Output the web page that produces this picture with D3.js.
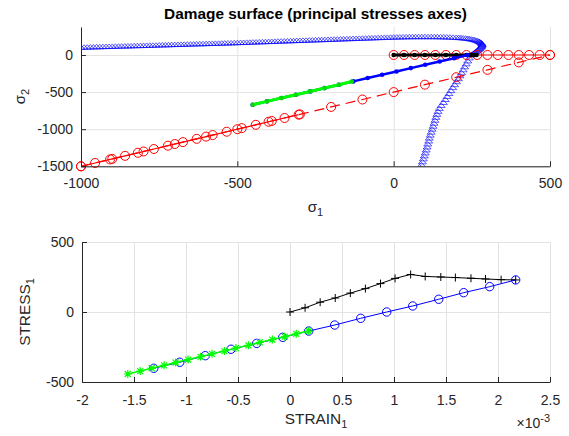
<!DOCTYPE html>
<html>
<head>
<meta charset="utf-8">
<script src="https://cdn.jsdelivr.net/npm/d3@7"></script>
<style>
    body { margin: 0; background: #fff; }
    text { font-family: "Liberation Sans", Arial, sans-serif; fill: #262626; }
    .axis path, .axis line { stroke: #262626; }
    .axis text { font-size: 14px; fill: #262626; }
    .grid line { stroke: #e3e3e3; }
    .grid path { display: none; }
</style>
</head>
<body>
<div id="vis"></div>
<script>
// ---- top plot data (principal stresses) ----
// damage surface envelope (upper branch, loop, lower branch)
var envSig1 = [-1000, -990, -980, -970, -960, -950, -940, -930, -920, -910, -900, -890, -880, -870, -860, -850,
    -840, -830, -820, -810, -800, -790, -780, -770, -760, -750, -740, -730, -720, -710, -700, -690, -680, -670,
    -660, -650, -640, -630, -620, -610, -600, -590, -580, -570, -560, -550, -540, -530, -520, -510, -500, -490,
    -480, -470, -460, -450, -440, -430, -420, -410, -400, -390, -380, -370, -360, -350, -340, -330, -320, -310,
    -300, -290, -280, -270, -260, -250, -240, -230, -220, -210, -200, -190, -180, -170, -160, -150, -140, -130,
    -120, -110, -100, -90, -80, -70, -60, -50, -40, -30, -20, -10, 0, 10, 20, 30, 40, 50, 60, 70, 80, 90, 100,
    110, 120, 130, 140, 150, 160, 170, 180, 190, 200,
    208, 215, 222, 230, 237, 243, 249, 255, 260, 265, 269, 273, 276, 279, 281, 282, 283, 283, 282, 281, 279,
    277, 275, 272, 269, 266, 263, 260, 257, 254, 250, 247,
    242, 237, 232, 227, 222, 217, 212, 207, 201, 195, 189, 183, 177, 171, 165, 159, 152, 146, 142, 138,
    135, 132, 129, 126, 123, 120, 117, 114, 112, 109, 107, 104, 101, 98, 95, 92, 89, 86];
var envSig2 = [103, 104, 105, 107, 108, 109, 110, 112, 113, 114, 115, 117, 118, 119, 120, 121, 122, 124, 125,
    126, 127, 129, 130, 131, 132, 134, 135, 136, 137, 139, 140, 141, 142, 144, 145, 146, 147, 149, 150, 151,
    152, 154, 155, 156, 157, 159, 160, 161, 162, 164, 165, 167, 168, 170, 171, 173, 174, 176, 177, 179, 180,
    182, 183, 185, 186, 188, 189, 191, 192, 194, 195, 197, 198, 200, 201, 203, 204, 206, 207, 209, 210, 212,
    213, 215, 216, 218, 219, 221, 222, 224, 225, 227, 228, 230, 231, 233, 234, 236, 237, 239, 240, 241, 242,
    243, 244, 245, 245, 246, 246, 246, 246, 246, 246, 246, 245, 244, 243, 242, 240, 238, 236,
    234, 232, 229, 226, 222, 218, 213, 208, 202, 196, 189, 182, 175, 167, 159, 151, 143, 135, 125, 115, 105,
    95, 85, 75, 65, 55, 45, 35, 26, 17, 8, 0,
    -40, -80, -120, -160, -200, -240, -280, -320, -360, -400, -440, -480, -520, -560, -600, -640, -680, -720,
    -760, -800, -840, -880, -920, -960, -1000, -1040, -1080, -1120, -1160, -1200, -1240, -1280, -1320, -1360,
    -1400, -1440, -1480, -1520];

// red dashed path with circles
var redDashS1 = [-1000, -900, -800, -700, -600, -500, -400, -300, -200, -100, 0, 100, 200, 300, 400, 500];
var redDashS2 = [-1500, -1400, -1300, -1200, -1100, -1000, -900, -800, -700, -600, -500, -400, -300, -200, -100, 0];
// red solid path with circles
var redSolidS1 = [-1000, -955, -907, -859, -818, -767, -722, -674, -630, -579, -534, -486, -441, -390, -349, -304];
var redSolidS2 = [-1500, -1455, -1407, -1359, -1318, -1267, -1222, -1174, -1130, -1079, -1034, -986, -941, -890, -849, -804];
// red circles on sigma2 = 0
var redAxisS1 = [0, 33, 67, 100, 133, 167, 200, 233, 267, 300, 333, 367, 400, 433, 467, 500];
var redAxisS2 = [0, 0, 0, 0, 0, 0, 0, 0, 0, 0, 0, 0, 0, 0, 0, 0];
// black path
var blackS1 = [0, 33, 67, 100, 133, 167, 200, 233, 242, 250, 258, 265];
var blackS2 = [0, 0, 0, 0, 0, 0, 0, 0, 0, 0, 0, 0];
// blue path
var blueS1 = [-451, -405, -359, -313, -267, -221, -175, -129, -83, -37, 9, 55, 101, 147, 193, 237];
var blueS2 = [-670, -625, -580, -536, -491, -446, -401, -356, -311, -267, -222, -177, -132, -88, -43, 0];
// green path
var greenS1 = [-451, -405, -359, -313, -267, -221, -175, -134];
var greenS2 = [-670, -625, -580, -536, -491, -446, -401, -358];

var topXTicks = [-1000, -500, 0, 500];
var topYTicks = [-1500, -1000, -500, 0];

// ---- bottom plot data (strain x 1e-3, stress) ----
var kStrain = [0, 0.145, 0.29, 0.435, 0.58, 0.725, 0.87, 1.01, 1.16, 1.30, 1.45, 1.59, 1.74, 1.88, 2.03, 2.17];
var kStress = [0, 30, 70, 100, 135, 167, 203, 240, 268, 254, 250, 246, 241, 236, 231, 229];
var bStrain = [-1.31, -1.06, -0.815, -0.567, -0.32, -0.07, 0.18, 0.43, 0.68, 0.93, 1.18, 1.43, 1.67, 1.92, 2.17];
var bStress = [-402, -359, -312, -266, -224, -181, -136, -93, -45, 0, 43, 91, 138, 181, 229];
var gStrain = [-1.56, -1.44, -1.33, -1.21, -1.10, -0.98, -0.86, -0.75, -0.63, -0.52, -0.40, -0.29, -0.17, -0.05, 0.06, 0.18];
var gStress = [-443, -422, -402, -381, -361, -340, -320, -299, -279, -258, -238, -217, -197, -176, -156, -136];

var botXTicks = [-2, -1.5, -1, -0.5, 0, 0.5, 1, 1.5, 2, 2.5];
var botYTicks = [-500, 0, 500];

var zip = function(a, b) {
    return a.map(function(v, i) { return [v, b[i]]; });
};

var width = 569,
    height = 436;

var svg = d3.select('#vis').append('svg')
    .attr('width', width)
    .attr('height', height);

// plain numbers, hyphen minus like MATLAB
var fmt = function(d) { return String(d); };

// ================= top axes =================
var boxTop = { left: 81, right: 550, top: 27, bottom: 166.3 };

var x1 = d3.scaleLinear().domain([-1000, 500]).range([boxTop.left, boxTop.right]);
var y1 = d3.scaleLinear().domain([-1500, 377]).range([boxTop.bottom, boxTop.top]);

svg.append('defs').append('clipPath').attr('id', 'clipTop')
    .append('rect')
    .attr('x', boxTop.left).attr('y', boxTop.top)
    .attr('width', boxTop.right - boxTop.left).attr('height', boxTop.bottom - boxTop.top);

// grid
svg.append('g').attr('class', 'grid')
    .attr('transform', 'translate(0,' + boxTop.bottom + ')')
    .call(d3.axisBottom(x1).tickValues(topXTicks).tickSize(-(boxTop.bottom - boxTop.top)).tickFormat(''));
svg.append('g').attr('class', 'grid')
    .attr('transform', 'translate(' + boxTop.left + ',0)')
    .call(d3.axisLeft(y1).tickValues(topYTicks).tickSize(-(boxTop.right - boxTop.left)).tickFormat(''));

// envelope markers (small flat triangles), clipped to the axes
svg.append('g').attr('clip-path', 'url(#clipTop)')
    .selectAll('.env').data(zip(envSig1, envSig2))
    .enter().append('path')
    .attr('class', 'env')
    .attr('d', 'M-4,2L0,-2.5L4,2Z')
    .attr('transform', function(d) { return 'translate(' + x1(d[0]) + ',' + y1(d[1]) + ')'; })
    .attr('fill', 'none')
    .attr('stroke', '#0000ff')
    .attr('stroke-width', 0.7)
    .attr('opacity', 0.9);

var gTop = svg.append('g');

var lineTop = d3.line()
    .x(function(d) { return x1(d[0]); })
    .y(function(d) { return y1(d[1]); });

var drawCircles = function(g, pts, xs, ys, r, color, sw) {
    g.append('g').selectAll('circle').data(pts)
        .enter().append('circle')
        .attr('cx', function(d) { return xs(d[0]); })
        .attr('cy', function(d) { return ys(d[1]); })
        .attr('r', r)
        .attr('fill', 'none')
        .attr('stroke', color)
        .attr('stroke-width', sw);
};
var drawDots = function(g, pts, xs, ys, r, color) {
    g.append('g').selectAll('circle').data(pts)
        .enter().append('circle')
        .attr('cx', function(d) { return xs(d[0]); })
        .attr('cy', function(d) { return ys(d[1]); })
        .attr('r', r)
        .attr('fill', color);
};

// red dashed
var redDash = zip(redDashS1, redDashS2);
gTop.append('path').datum(redDash)
    .attr('d', lineTop).attr('fill', 'none')
    .attr('stroke', '#ff0000').attr('stroke-width', 1.2).attr('stroke-dasharray', '10,6');
drawCircles(gTop, redDash, x1, y1, 4.5, '#ff0000', 1);

// red solid
var redSolid = zip(redSolidS1, redSolidS2);
gTop.append('path').datum(redSolid)
    .attr('d', lineTop).attr('fill', 'none')
    .attr('stroke', '#ff0000').attr('stroke-width', 1.2);
drawCircles(gTop, redSolid, x1, y1, 4.5, '#ff0000', 1);

// red circles on axis
var redAxis = zip(redAxisS1, redAxisS2);
gTop.append('path').datum(redAxis)
    .attr('d', lineTop).attr('fill', 'none')
    .attr('stroke', '#ff0000').attr('stroke-width', 1);
drawCircles(gTop, redAxis, x1, y1, 4.5, '#ff0000', 1);

// black
var black = zip(blackS1, blackS2);
gTop.append('path').datum(black)
    .attr('d', lineTop).attr('fill', 'none')
    .attr('stroke', '#000').attr('stroke-width', 3);
drawDots(gTop, black, x1, y1, 2.3, '#000');

// blue
var blue = zip(blueS1, blueS2);
gTop.append('path').datum(blue)
    .attr('d', lineTop).attr('fill', 'none')
    .attr('stroke', '#0000ff').attr('stroke-width', 2.5);
drawDots(gTop, blue, x1, y1, 2.3, '#0000ff');

// green
var green = zip(greenS1, greenS2);
gTop.append('path').datum(green)
    .attr('d', lineTop).attr('fill', 'none')
    .attr('stroke', '#00ff00').attr('stroke-width', 3);
drawDots(gTop, green, x1, y1, 2.3, '#00dd00');

// axes (ticks inward)
svg.append('g').attr('class', 'axis')
    .attr('transform', 'translate(0,' + boxTop.bottom + ')')
    .call(d3.axisBottom(x1).tickValues(topXTicks).tickFormat(fmt).tickSize(-5).tickSizeOuter(0).tickPadding(12));
svg.append('g').attr('class', 'axis')
    .attr('transform', 'translate(' + boxTop.left + ',0)')
    .call(d3.axisLeft(y1).tickValues(topYTicks).tickFormat(fmt).tickSize(-5).tickSizeOuter(0).tickPadding(8));

svg.append('text')
    .attr('x', (boxTop.left + boxTop.right) / 2).attr('y', 19)
    .attr('text-anchor', 'middle')
    .style('font-size', '15.4px').style('font-weight', 'bold').style('fill', '#000')
    .text('Damage surface (principal stresses axes)');

var sx = svg.append('text')
    .attr('x', (boxTop.left + boxTop.right) / 2).attr('y', 212)
    .attr('text-anchor', 'middle')
    .style('font-size', '15px');
sx.append('tspan').text('σ');
sx.append('tspan').attr('dy', 4).style('font-size', '11px').text('1');

var sy = svg.append('text')
    .attr('transform', 'translate(25,' + ((boxTop.top + boxTop.bottom) / 2) + ') rotate(-90)')
    .attr('text-anchor', 'middle')
    .style('font-size', '15px');
sy.append('tspan').text('σ');
sy.append('tspan').attr('dy', 4).style('font-size', '11px').text('2');

// ================= bottom axes =================
var boxBot = { left: 82, right: 550, top: 242, bottom: 382 };

var x2 = d3.scaleLinear().domain([-2, 2.5]).range([boxBot.left, boxBot.right]);
var y2 = d3.scaleLinear().domain([-500, 500]).range([boxBot.bottom, boxBot.top]);

svg.append('g').attr('class', 'grid')
    .attr('transform', 'translate(0,' + boxBot.bottom + ')')
    .call(d3.axisBottom(x2).tickValues(botXTicks).tickSize(-(boxBot.bottom - boxBot.top)).tickFormat(''));
svg.append('g').attr('class', 'grid')
    .attr('transform', 'translate(' + boxBot.left + ',0)')
    .call(d3.axisLeft(y2).tickValues(botYTicks).tickSize(-(boxBot.right - boxBot.left)).tickFormat(''));

var gBot = svg.append('g');
var lineBot = d3.line()
    .x(function(d) { return x2(d[0]); })
    .y(function(d) { return y2(d[1]); });

var plusPath = 'M-4,0H4M0,-4V4';
var starPath = 'M-4,0H4M0,-4V4M-3,-3L3,3M-3,3L3,-3';

// black +
var kPts = zip(kStrain, kStress);
gBot.append('path').datum(kPts)
    .attr('d', lineBot).attr('fill', 'none').attr('stroke', '#000').attr('stroke-width', 1);
gBot.append('g').selectAll('path').data(kPts)
    .enter().append('path')
    .attr('d', plusPath)
    .attr('transform', function(d) { return 'translate(' + x2(d[0]) + ',' + y2(d[1]) + ')'; })
    .attr('stroke', '#000').attr('stroke-width', 1);

// blue circles
var bPts = zip(bStrain, bStress);
gBot.append('path').datum(bPts)
    .attr('d', lineBot).attr('fill', 'none').attr('stroke', '#0000ff').attr('stroke-width', 1);
drawCircles(gBot, bPts, x2, y2, 4.2, '#0000ff', 1);

// green stars
var gPts = zip(gStrain, gStress);
gBot.append('path').datum(gPts)
    .attr('d', lineBot).attr('fill', 'none').attr('stroke', '#00ff00').attr('stroke-width', 1.5);
gBot.append('g').selectAll('path').data(gPts)
    .enter().append('path')
    .attr('d', starPath)
    .attr('transform', function(d) { return 'translate(' + x2(d[0]) + ',' + y2(d[1]) + ')'; })
    .attr('stroke', '#00ff00').attr('stroke-width', 1.2);

svg.append('g').attr('class', 'axis')
    .attr('transform', 'translate(0,' + boxBot.bottom + ')')
    .call(d3.axisBottom(x2).tickValues(botXTicks).tickFormat(fmt).tickSize(-5).tickSizeOuter(0).tickPadding(13));
svg.append('g').attr('class', 'axis')
    .attr('transform', 'translate(' + boxBot.left + ',0)')
    .call(d3.axisLeft(y2).tickValues(botYTicks).tickFormat(fmt).tickSize(-5).tickSizeOuter(0).tickPadding(8));

var lx = svg.append('text')
    .attr('x', (boxBot.left + boxBot.right) / 2).attr('y', 424)
    .attr('text-anchor', 'middle')
    .style('font-size', '15.4px');
lx.append('tspan').text('STRAIN');
lx.append('tspan').attr('dy', 4).style('font-size', '11px').text('1');

var ly = svg.append('text')
    .attr('transform', 'translate(30,' + ((boxBot.top + boxBot.bottom) / 2) + ') rotate(-90)')
    .attr('text-anchor', 'middle')
    .style('font-size', '15.4px');
ly.append('tspan').text('STRESS');
ly.append('tspan').attr('dy', 4).style('font-size', '11px').text('1');

var ex = svg.append('text')
    .attr('x', boxBot.right).attr('y', 428)
    .attr('text-anchor', 'end')
    .style('font-size', '14px');
ex.append('tspan').text('\u00d710');
ex.append('tspan').attr('dy', -6).style('font-size', '11px').text('-3');
</script>
</body>
</html>
